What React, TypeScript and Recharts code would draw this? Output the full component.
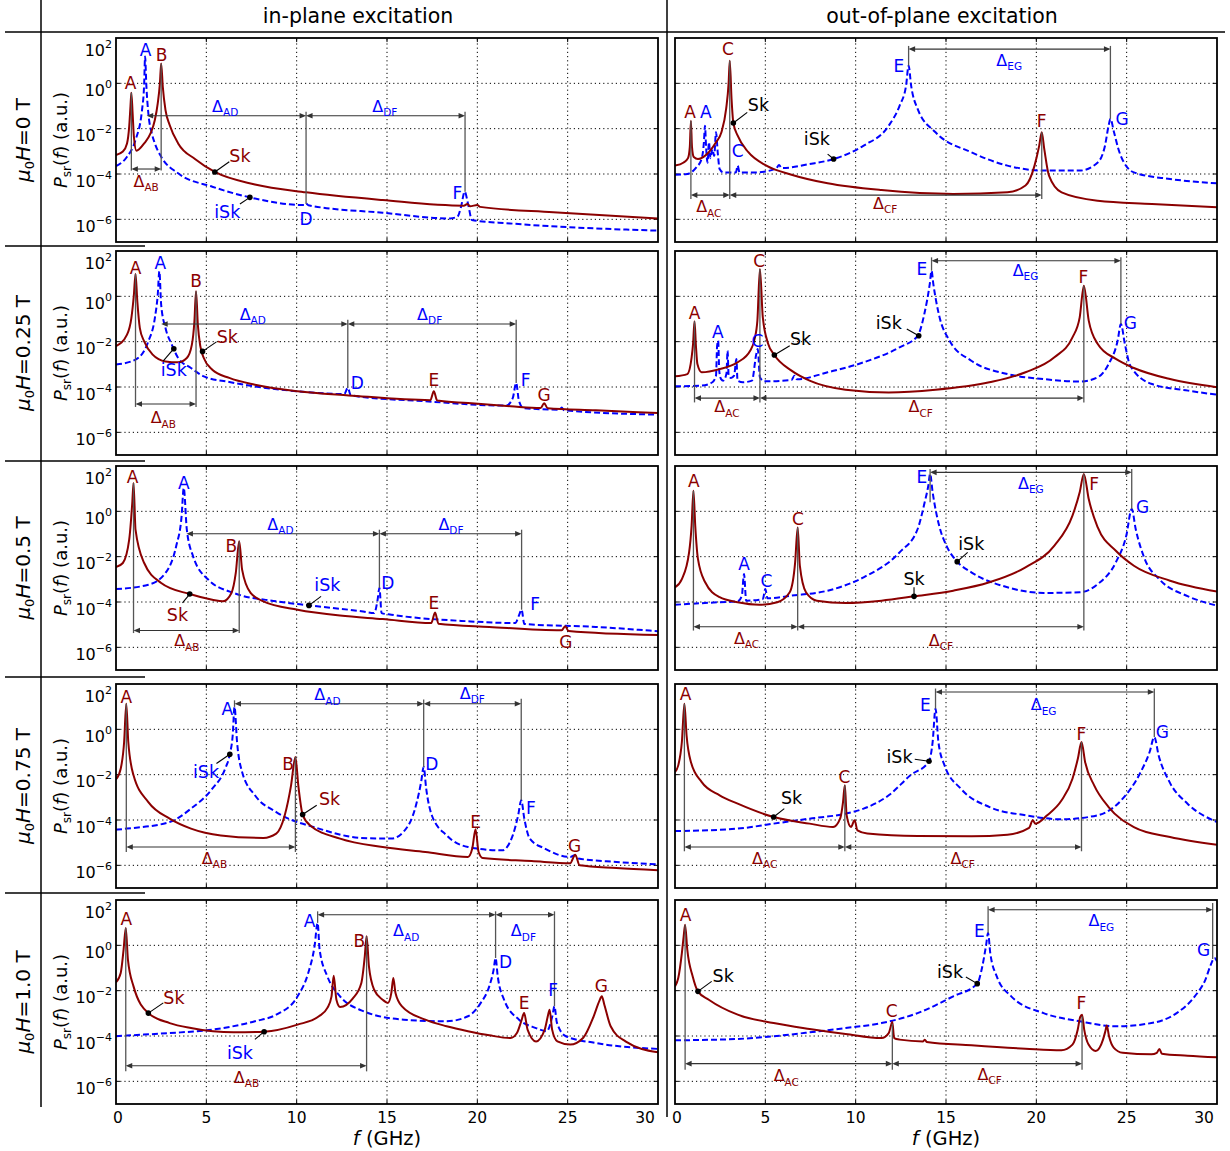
import React from 'react';
import { ComposedChart, Line, XAxis, YAxis, ReferenceLine, ReferenceDot } from 'recharts';

type Pt = [number, number]; // [f in GHz, log10 of P_sr]
type C = 'r' | 'b' | 'k';

// ---------------- axes ----------------
const X_TICKS = [0, 5, 10, 15, 20, 25, 30];
const X_GRID = [5, 10, 15, 20, 25];
const Y_TICKS = [1e-6, 1e-4, 1e-2, 1, 1e2];
const Y_GRID = [1e-6, 1e-4, 1e-2, 1];
const FIELD_LABELS = ['0', '0.25', '0.5', '0.75', '1.0'];
const COLUMN_TITLES = ['in-plane excitation', 'out-of-plane excitation'];

// ---------------- series (log10 values) ----------------
const IN_0T_RED: Pt[] = [[0,-3.16],[0.38,-3.01],[0.61,-2.65],[0.73,-1.91],[0.8,-1.03],[0.85,-0.41],[0.92,-1.32],[0.99,-2.35],[1.13,-2.97],[1.56,-2.65],[1.91,-2.21],[2.15,-1.62],[2.31,-0.88],[2.43,0.0],[2.5,0.88],[2.59,-0.15],[2.74,-1.18],[2.97,-1.84],[3.44,-2.65],[4.39,-3.35],[5.47,-3.91],[7.69,-4.46],[10.52,-4.81],[14.76,-5.15],[19.25,-5.4],[19.45,-5.32],[19.6,-5.42],[20.0,-5.37],[20.15,-5.45],[24.2,-5.69],[30,-5.96]];
const IN_0T_BLUE: Pt[] = [[0,-3.65],[0.61,-3.24],[1.08,-2.5],[1.44,-1.18],[1.56,0.0],[1.61,1.18],[1.68,-0.1],[1.79,-1.32],[1.98,-2.2],[2.15,-2.65],[2.5,-3.24],[3.44,-3.97],[5.33,-4.56],[7.41,-5.03],[10.4,-5.37],[10.52,-5.3],[10.65,-5.38],[14.76,-5.71],[18.5,-5.96],[18.9,-5.88],[19.1,-5.44],[19.3,-4.78],[19.5,-5.37],[19.7,-6.03],[21.8,-6.18],[30,-6.5]];
const OUT_0T_RED: Pt[] = [[0,-3.63],[0.48,-3.49],[0.72,-3.3],[0.82,-2.8],[0.88,-1.65],[0.94,-2.8],[1.04,-3.25],[1.27,-3.34],[1.87,-3.04],[2.27,-2.6],[2.57,-2.16],[2.83,-1.13],[2.97,0.04],[3.03,1.0],[3.13,-0.69],[3.23,-1.75],[3.47,-2.31],[4.06,-3.04],[5.06,-3.63],[6.45,-4.03],[8.45,-4.41],[11.43,-4.71],[15.4,-4.88],[18.4,-4.81],[19.4,-4.51],[19.9,-3.63],[20.16,-2.75],[20.3,-2.16],[20.44,-2.9],[20.7,-4.07],[21.4,-4.81],[23.4,-5.18],[26.4,-5.32],[30,-5.47]];
const OUT_0T_BLUE: Pt[] = [[0,-4.03],[0.68,-4.0],[1.18,-3.71],[1.47,-3.34],[1.6,-2.6],[1.66,-1.87],[1.72,-2.8],[1.8,-3.5],[1.88,-2.6],[1.96,-3.3],[2.07,-2.9],[2.17,-3.2],[2.27,-2.16],[2.37,-3.1],[2.47,-3.78],[2.67,-3.93],[3.37,-3.93],[3.47,-3.63],[3.57,-3.93],[4.46,-3.93],[5.6,-3.76],[5.76,-3.6],[5.9,-3.74],[7.45,-3.56],[8.78,-3.34],[10.44,-2.75],[11.83,-1.87],[12.43,-0.99],[12.79,-0.1],[12.93,0.78],[13.07,-0.1],[13.43,-1.13],[14.42,-2.16],[16.4,-3.04],[18.4,-3.63],[20.4,-3.85],[22.4,-3.85],[23.4,-3.49],[23.8,-2.75],[24.0,-1.87],[24.1,-1.57],[24.3,-2.16],[24.6,-3.04],[25.4,-3.93],[27.4,-4.22],[30,-4.41]];

const IN_025T_RED: Pt[] = [[0,-2.2],[0.61,-1.69],[0.85,-0.96],[0.99,0.07],[1.08,0.99],[1.18,-0.22],[1.32,-1.4],[1.56,-1.99],[2.03,-2.57],[2.74,-2.87],[3.44,-2.91],[3.92,-2.72],[4.2,-2.13],[4.34,-1.1],[4.43,0.22],[4.53,-1.25],[4.67,-2.21],[4.86,-2.72],[5.33,-3.24],[6.27,-3.6],[7.69,-3.9],[10.05,-4.19],[12.88,-4.37],[17.4,-4.58],[17.59,-4.19],[17.78,-4.6],[19.48,-4.71],[21.84,-4.85],[23.5,-4.93],[23.7,-4.72],[23.9,-4.94],[26.56,-5.03],[30,-5.15]];
const IN_025T_BLUE: Pt[] = [[0,-3.01],[1.08,-2.79],[1.79,-1.99],[2.15,-0.96],[2.31,0.07],[2.4,1.1],[2.5,-0.37],[2.74,-1.4],[3.09,-2.13],[3.44,-2.72],[4.15,-3.16],[4.86,-3.53],[6.27,-3.78],[10.05,-4.19],[12.64,-4.31],[12.83,-4.04],[13.0,-4.37],[17.1,-4.63],[21.6,-4.82],[21.96,-4.49],[22.15,-3.82],[22.3,-4.6],[22.55,-4.93],[24.55,-5.0],[24.67,-4.9],[24.8,-5.03],[30,-5.22]];
const OUT_025T_RED: Pt[] = [[0,-3.53],[0.68,-3.43],[0.92,-2.69],[1.0,-2.1],[1.08,-1.1],[1.16,-2.2],[1.24,-2.99],[1.47,-3.35],[2.47,-3.21],[3.47,-2.91],[4.16,-2.4],[4.4,-1.9],[4.56,-1.07],[4.7,1.21],[4.86,-0.93],[5.16,-2.1],[5.5,-2.59],[6.45,-3.28],[7.45,-3.72],[9.44,-4.12],[11.83,-4.24],[14.42,-4.12],[17.4,-3.79],[19.4,-3.35],[21.0,-2.69],[22.0,-1.81],[22.4,-0.93],[22.63,0.47],[22.9,-1.07],[23.4,-2.1],[24.4,-2.76],[25.4,-3.16],[27.4,-3.65],[30,-4.01]];
const OUT_025T_BLUE: Pt[] = [[0,-3.97],[1.47,-3.94],[2.07,-3.79],[2.27,-3.5],[2.33,-2.2],[2.39,-1.96],[2.45,-3.3],[2.55,-3.65],[2.67,-3.72],[2.85,-3.4],[2.91,-2.4],[2.97,-3.5],[3.1,-3.6],[3.27,-3.5],[3.4,-2.76],[3.46,-3.72],[3.76,-3.79],[4.26,-3.72],[4.5,-2.54],[4.58,-2.32],[4.7,-3.57],[4.96,-3.75],[6.45,-3.69],[6.61,-3.5],[6.75,-3.66],[8.45,-3.35],[10.44,-2.91],[12.43,-2.25],[13.43,-1.74],[13.8,-0.78],[14.1,0.54],[14.2,1.13],[14.3,0.54],[14.6,-0.78],[15.2,-1.96],[16.4,-2.84],[18.4,-3.43],[20.4,-3.65],[22.4,-3.76],[23.4,-3.57],[24.0,-2.99],[24.5,-1.96],[24.68,-1.22],[24.9,-2.1],[25.2,-3.06],[26.4,-3.87],[28.4,-4.16],[30,-4.34]];

const IN_05T_RED: Pt[] = [[0,-2.46],[0.38,-2.28],[0.73,-1.25],[0.9,0.37],[0.97,1.25],[1.08,-0.81],[1.56,-2.28],[2.5,-3.16],[4.08,-3.65],[5.33,-3.9],[5.92,-3.97],[6.39,-3.6],[6.63,-2.72],[6.82,-1.32],[6.98,-2.57],[7.45,-3.6],[8.16,-3.97],[10.05,-4.34],[12.4,-4.6],[14.76,-4.75],[17.45,-4.93],[17.66,-4.46],[17.85,-4.96],[20.66,-5.1],[24.67,-5.25],[24.86,-5.07],[25.05,-5.28],[30,-5.46]];
const IN_05T_BLUE: Pt[] = [[0,-3.43],[1.79,-3.24],[2.74,-2.72],[3.33,-1.54],[3.63,-0.22],[3.75,1.03],[3.92,-0.81],[4.27,-1.99],[5.1,-3.01],[6.51,-3.6],[8.87,-3.97],[10.68,-4.15],[13.58,-4.41],[14.29,-4.49],[14.48,-3.9],[14.58,-3.38],[14.7,-4.49],[15.24,-4.56],[19.48,-4.85],[22.1,-4.93],[22.3,-4.6],[22.45,-4.34],[22.6,-4.97],[26.56,-5.1],[30,-5.29]];
const OUT_05T_RED: Pt[] = [[0,-3.35],[0.38,-2.99],[0.78,-1.81],[0.92,-0.63],[1.02,0.91],[1.12,-0.63],[1.27,-2.1],[1.67,-3.13],[2.47,-3.79],[3.47,-4.01],[4.66,-4.12],[5.66,-4.01],[6.35,-3.57],[6.65,-2.25],[6.79,-0.71],[6.91,-2.4],[7.25,-3.57],[7.85,-3.94],[9.44,-4.04],[11.43,-3.94],[13.23,-3.75],[15.4,-3.5],[17.4,-3.13],[19.4,-2.47],[21.0,-1.51],[22.0,-0.19],[22.4,0.84],[22.63,1.65],[22.9,0.54],[23.4,-0.71],[24.4,-1.74],[25.4,-2.4],[27.4,-3.06],[30,-3.54]];
const OUT_05T_BLUE: Pt[] = [[0,-4.12],[2.47,-4.01],[3.47,-3.97],[3.7,-3.72],[3.82,-2.76],[3.94,-3.94],[4.86,-3.87],[5.0,-3.43],[5.12,-3.84],[6.45,-3.72],[8.45,-3.5],[10.44,-2.91],[12.43,-1.81],[13.43,-0.78],[13.82,0.4],[14.02,1.13],[14.12,1.65],[14.26,0.84],[14.62,-0.63],[15.02,-1.51],[15.62,-2.22],[16.4,-2.69],[18.4,-3.35],[20.4,-3.6],[22.4,-3.57],[23.4,-3.21],[24.4,-2.25],[24.98,-1.07],[25.28,0.1],[25.5,-0.78],[26.0,-2.1],[26.8,-2.99],[28.4,-3.75],[30,-4.16]];

const IN_075T_RED: Pt[] = [[0,-2.21],[0.26,-1.74],[0.45,-0.56],[0.57,1.13],[0.68,-0.56],[0.97,-2.03],[1.79,-3.21],[2.97,-3.94],[4.15,-4.38],[5.8,-4.68],[8.16,-4.79],[8.87,-4.6],[9.34,-3.79],[9.69,-2.47],[9.93,-1.22],[10.09,-2.47],[10.33,-3.76],[10.75,-4.24],[12.4,-4.82],[14.76,-5.19],[17.12,-5.41],[19.48,-5.63],[19.72,-5.26],[19.9,-4.41],[20.07,-5.41],[20.3,-5.68],[23.0,-5.81],[25.14,-5.91],[25.42,-5.53],[25.66,-6.0],[27.7,-6.12],[30,-6.22]];
const IN_075T_BLUE: Pt[] = [[0,-4.43],[0.61,-4.38],[2.97,-4.09],[4.15,-3.5],[5.33,-2.62],[6.04,-1.74],[6.3,-1.1],[6.46,-0.26],[6.56,0.99],[6.7,-0.56],[6.98,-1.88],[7.69,-2.91],[8.87,-3.65],[11.23,-4.38],[13.58,-4.79],[15.24,-4.82],[16.18,-4.24],[16.65,-3.21],[16.89,-2.32],[17.03,-1.66],[17.17,-2.62],[17.48,-3.79],[18.3,-4.68],[19.48,-5.19],[21.37,-5.34],[21.96,-4.68],[22.26,-3.79],[22.43,-3.13],[22.6,-3.94],[22.9,-4.82],[23.73,-5.26],[25.14,-5.63],[25.38,-5.56],[25.6,-5.7],[27.7,-5.85],[30,-5.96]];
const OUT_075T_RED: Pt[] = [[0,-1.88],[0.18,-1.59],[0.38,-0.56],[0.52,1.13],[0.64,-0.26],[0.88,-1.44],[1.47,-2.32],[2.47,-2.91],[3.47,-3.28],[5.46,-3.87],[7.45,-4.16],[8.75,-4.31],[9.14,-3.94],[9.3,-3.21],[9.4,-2.47],[9.5,-3.79],[9.74,-4.31],[9.94,-4.01],[10.1,-4.46],[10.64,-4.6],[13.43,-4.71],[16.41,-4.72],[18.4,-4.65],[19.6,-4.35],[19.8,-4.01],[19.95,-4.16],[20.6,-3.79],[21.4,-3.13],[22.0,-2.18],[22.3,-1.29],[22.5,-0.56],[22.7,-1.44],[23.2,-2.47],[24.0,-3.43],[25.4,-4.31],[27.4,-4.75],[30,-5.09]];
const OUT_075T_BLUE: Pt[] = [[0,-4.49],[3.47,-4.38],[5.46,-4.16],[7.45,-3.94],[9.44,-3.72],[10.44,-3.5],[11.83,-2.91],[13.03,-2.03],[14.06,-1.41],[14.26,-0.56],[14.42,0.91],[14.58,-0.56],[14.92,-1.59],[15.82,-2.62],[17.41,-3.43],[19.4,-3.79],[21.4,-3.97],[23.39,-3.79],[24.78,-3.06],[25.78,-1.88],[26.27,-1.0],[26.53,-0.34],[26.77,-1.15],[27.37,-2.32],[28.37,-3.28],[30,-4.09]];

const IN_1T_RED: Pt[] = [[0,-1.63],[0.26,-1.22],[0.42,-0.19],[0.54,0.76],[0.66,-0.63],[0.97,-1.81],[1.79,-2.99],[2.97,-3.43],[4.15,-3.65],[6.51,-3.84],[8.2,-3.81],[10.05,-3.5],[11.23,-3.13],[11.7,-2.76],[11.93,-2.25],[12.05,-1.34],[12.2,-2.4],[12.4,-2.72],[13.1,-2.35],[13.58,-1.66],[13.77,-0.49],[13.87,0.4],[14.0,-0.93],[14.29,-1.96],[14.76,-2.4],[15.05,-2.54],[15.24,-2.1],[15.35,-1.44],[15.47,-2.1],[15.83,-2.69],[17.12,-3.28],[18.3,-3.57],[19.48,-3.79],[20.66,-3.97],[21.84,-4.09],[22.19,-3.87],[22.43,-3.35],[22.59,-2.99],[22.78,-3.72],[23.25,-4.24],[23.73,-3.72],[23.9,-3.13],[24.0,-2.84],[24.14,-3.72],[24.43,-4.24],[25.14,-4.38],[25.85,-4.09],[26.44,-3.13],[26.75,-2.46],[26.89,-2.25],[27.03,-2.62],[27.38,-3.57],[28.2,-4.24],[30,-4.72]];
const IN_1T_BLUE: Pt[] = [[0,-4.01],[0.61,-3.98],[2.97,-3.87],[5.33,-3.72],[7.69,-3.35],[8.87,-3.06],[10.05,-2.25],[10.64,-1.22],[10.99,-0.04],[11.16,0.99],[11.27,-0.19],[11.7,-1.37],[12.4,-2.25],[13.58,-2.87],[15.94,-3.28],[18.3,-3.35],[19.48,-3.13],[20.19,-2.54],[20.66,-1.81],[20.9,-1.08],[21.01,-0.56],[21.13,-1.37],[21.48,-2.4],[22.31,-3.28],[23.25,-3.65],[23.84,-3.79],[24.15,-3.13],[24.27,-2.69],[24.4,-3.4],[24.9,-4.01],[26.56,-4.31],[30,-4.57]];
const OUT_1T_RED: Pt[] = [[0,-1.81],[0.18,-1.44],[0.38,-0.34],[0.48,0.4],[0.56,0.91],[0.68,-0.19],[0.98,-1.37],[1.27,-2.03],[1.87,-2.4],[3.47,-3.06],[5.46,-3.43],[7.45,-3.69],[9.44,-3.91],[11.43,-4.09],[11.83,-3.87],[11.97,-3.5],[12.03,-3.38],[12.13,-4.09],[12.43,-4.16],[13.73,-4.24],[13.83,-4.16],[13.93,-4.26],[16.41,-4.41],[19.4,-4.56],[21.39,-4.63],[22.0,-4.38],[22.29,-3.72],[22.43,-3.16],[22.53,-3.06],[22.65,-3.72],[22.89,-4.38],[23.29,-4.66],[23.69,-4.16],[23.82,-3.79],[23.9,-3.54],[24.02,-4.0],[24.28,-4.51],[24.78,-4.74],[26.37,-4.81],[26.67,-4.74],[26.81,-4.57],[26.95,-4.78],[28.37,-4.87],[30,-4.94]];
const OUT_1T_BLUE: Pt[] = [[0,-4.19],[3.47,-4.13],[5.46,-4.01],[7.45,-3.84],[9.44,-3.65],[11.43,-3.43],[13.43,-2.99],[15.4,-2.25],[16.73,-1.69],[17.01,-0.93],[17.21,-0.04],[17.33,0.54],[17.45,-0.34],[17.81,-1.37],[18.61,-2.25],[20.4,-2.99],[22.4,-3.35],[24.4,-3.57],[26.37,-3.43],[27.77,-2.99],[28.77,-2.25],[29.36,-1.51],[29.66,-0.85],[29.86,-0.56],[30,-0.71]];

// ---------------- annotations (data coordinates: f, log10) ----------------
interface Ann {
  letters: [number, number, string, C][];
  vlines: [number, number, number][];
  arrows: [number, number, number][];
  deltas: [number, number, string, C][];
  pointers: [number, number, number, number, number, number, string, C][];
}
const ANN_IN_0T: Ann = {
  letters: [[0.8,0.0,'A','r'],[1.63,1.47,'A','b'],[2.52,1.25,'B','r'],[10.52,-5.96,'D','b'],[18.9,-4.85,'F','b']],
  vlines: [[0.85,-0.41,-3.85],[2.5,0.88,-3.85],[10.52,-1.25,-5.32],[19.32,-1.25,-4.78]],
  arrows: [[0.85,2.5,-3.78],[1.7,10.52,-1.43],[10.52,19.32,-1.43]],
  deltas: [[1.67,-4.34,'AB','r'],[6.04,-1.03,'AD','b'],[14.88,-1.03,'DF','b']],
  pointers: [[5.47,-3.91,6.27,-3.46,6.86,-3.19,'Sk','r'],[7.41,-5.03,6.86,-5.32,6.16,-5.66,'iSk','b']],
};
const ANN_OUT_0T: Ann = {
  letters: [[0.84,-1.28,'A','r'],[1.71,-1.28,'A','b'],[2.93,1.51,'C','r'],[3.47,-2.97,'C','b'],[12.39,0.78,'E','b'],[20.3,-1.65,'F','r'],[24.74,-1.57,'G','b']],
  vlines: [[0.88,-1.65,-5.1],[3.03,1.0,-5.1],[20.3,-2.16,-5.1],[12.93,1.65,0.78],[24.1,1.65,-1.57]],
  arrows: [[0.88,3.03,-4.93],[3.03,20.3,-4.93],[12.93,24.1,1.51]],
  deltas: [[1.87,-5.47,'AC','r'],[11.63,-5.32,'CF','r'],[18.5,1.0,'EG','b']],
  pointers: [[3.23,-1.75,4.0,-1.28,4.62,-0.96,'Sk','k'],[8.78,-3.34,8.45,-3.12,7.85,-2.46,'iSk','k']],
};
const ANN_IN_025T: Ann = {
  letters: [[1.08,1.25,'A','r'],[2.45,1.47,'A','b'],[4.43,0.66,'B','r'],[13.35,-3.82,'D','b'],[17.6,-3.68,'E','r'],[22.67,-3.68,'F','b'],[23.7,-4.34,'G','r']],
  vlines: [[1.08,0.99,-4.88],[4.43,0.22,-4.88],[12.83,-1.03,-4.04],[22.15,-1.03,-3.82]],
  arrows: [[1.08,4.43,-4.75],[2.5,12.83,-1.22],[12.83,22.15,-1.22]],
  deltas: [[2.62,-5.37,'AB','r'],[7.57,-0.81,'AD','b'],[17.36,-0.81,'DF','b']],
  pointers: [[4.79,-2.43,5.56,-2.01,6.16,-1.76,'Sk','r'],[3.2,-2.31,2.62,-2.85,3.2,-3.24,'iSk','b']],
};
const ANN_OUT_025T: Ann = {
  letters: [[1.08,-0.71,'A','r'],[2.37,-1.59,'A','b'],[4.66,1.57,'C','r'],[4.56,-1.96,'C','b'],[13.67,1.21,'E','b'],[22.6,0.84,'F','r'],[25.2,-1.15,'G','b']],
  vlines: [[1.08,-1.1,-4.68],[4.7,1.21,-4.68],[22.63,0.47,-4.68],[14.2,1.72,1.13],[24.68,1.72,-1.22]],
  arrows: [[1.08,4.7,-4.49],[4.7,22.63,-4.49],[14.2,24.68,1.57]],
  deltas: [[2.87,-4.9,'AC','r'],[13.6,-4.9,'CF','r'],[19.4,1.13,'EG','b']],
  pointers: [[5.5,-2.59,6.35,-2.18,6.95,-1.85,'Sk','k'],[13.49,-1.74,12.83,-1.44,11.83,-1.15,'iSk','k']],
};
const ANN_IN_05T: Ann = {
  letters: [[0.92,1.54,'A','r'],[3.75,1.25,'A','b'],[6.39,-1.54,'B','r'],[15.05,-3.16,'D','b'],[17.6,-4.04,'E','r'],[23.2,-4.07,'F','b'],[24.9,-5.78,'G','r']],
  vlines: [[0.97,1.25,-5.37],[6.82,-1.32,-5.37],[14.58,-0.81,-3.38],[22.45,-0.81,-4.34]],
  arrows: [[0.97,6.82,-5.26],[3.9,14.58,-0.99],[14.58,22.45,-0.99]],
  deltas: [[3.92,-5.74,'AB','r'],[9.1,-0.59,'AD','b'],[18.54,-0.59,'DF','b']],
  pointers: [[4.08,-3.65,3.68,-4.04,3.4,-4.56,'Sk','r'],[10.68,-4.15,11.35,-3.75,11.7,-3.24,'iSk','b']],
};
const ANN_OUT_05T: Ann = {
  letters: [[1.04,1.35,'A','r'],[6.81,-0.34,'C','r'],[3.82,-2.32,'A','b'],[5.06,-3.06,'C','b'],[13.67,1.5,'E','b'],[23.2,1.21,'F','r'],[25.88,0.18,'G','b']],
  vlines: [[1.02,0.91,-5.26],[6.79,-0.71,-5.26],[22.63,1.65,-5.26],[14.12,1.87,0.4],[25.28,1.87,0.1]],
  arrows: [[1.02,6.79,-5.09],[6.79,22.63,-5.09],[14.12,25.28,1.72]],
  deltas: [[3.96,-5.63,'AC','r'],[14.72,-5.7,'CF','r'],[19.7,1.21,'EG','b']],
  pointers: [[13.23,-3.75,13.23,-3.35,13.23,-2.99,'Sk','k'],[15.62,-2.22,16.2,-1.81,16.4,-1.44,'iSk','k']],
};
const ANN_IN_075T: Ann = {
  letters: [[0.57,1.43,'A','r'],[6.16,0.91,'A','b'],[9.53,-1.51,'B','r'],[17.48,-1.51,'D','b'],[19.9,-4.09,'E','r'],[22.97,-3.47,'F','b'],[25.38,-5.12,'G','r']],
  vlines: [[0.57,1.13,-5.41],[9.93,-1.22,-5.41],[6.56,1.28,0.99],[17.03,1.32,-1.66],[22.43,1.35,-3.13]],
  arrows: [[0.57,9.93,-5.19],[6.56,17.03,1.13],[17.03,22.43,1.13]],
  deltas: [[5.45,-5.71,'AB','r'],[11.7,1.5,'AD','b'],[19.72,1.57,'DF','b']],
  pointers: [[6.3,-1.1,5.56,-1.51,4.98,-1.88,'iSk','b'],[10.33,-3.76,11.11,-3.35,11.82,-3.06,'Sk','r']],
};
const ANN_OUT_075T: Ann = {
  letters: [[0.58,1.57,'A','r'],[9.38,-2.1,'C','r'],[13.86,1.06,'E','b'],[22.49,-0.19,'F','r'],[26.97,-0.12,'G','b']],
  vlines: [[0.52,1.13,-5.38],[9.4,-2.47,-5.38],[22.5,-0.56,-5.38],[14.42,1.8,0.91],[26.53,1.8,-0.34]],
  arrows: [[0.52,9.4,-5.19],[9.4,22.5,-5.19],[14.42,26.53,1.65]],
  deltas: [[4.96,-5.71,'AC','r'],[15.92,-5.71,'CF','r'],[20.4,1.06,'EG','b']],
  pointers: [[5.46,-3.87,6.05,-3.5,6.45,-3.03,'Sk','k'],[14.06,-1.41,13.27,-1.32,12.43,-1.22,'iSk','k']],
};
const ANN_IN_1T: Ann = {
  letters: [[0.57,1.16,'A','r'],[10.71,1.06,'A','b'],[13.47,0.18,'B','r'],[21.56,-0.71,'D','b'],[22.59,-2.54,'E','r'],[24.2,-1.96,'F','b'],[26.86,-1.81,'G','r']],
  vlines: [[0.54,0.76,-5.56],[13.87,0.4,-5.56],[11.16,1.5,0.99],[21.01,1.5,-0.56],[24.27,1.5,-2.69]],
  arrows: [[0.54,13.87,-5.31],[11.16,21.01,1.35],[21.01,24.27,1.35]],
  deltas: [[7.22,-5.85,'AB','r'],[16.06,0.62,'AD','b'],[22.55,0.62,'DF','b']],
  pointers: [[1.79,-2.99,2.62,-2.54,3.21,-2.32,'Sk','r'],[8.2,-3.81,7.69,-4.15,6.86,-4.75,'iSk','b']],
};
const ANN_OUT_1T: Ann = {
  letters: [[0.58,1.35,'A','r'],[12.0,-2.91,'C','r'],[16.85,0.62,'E','b'],[22.49,-2.54,'F','r'],[29.26,-0.19,'G','b']],
  vlines: [[0.56,0.91,-5.49],[12.03,-3.46,-5.49],[22.53,-3.13,-5.49],[17.33,1.72,0.54],[29.76,1.87,-0.6]],
  arrows: [[0.56,12.03,-5.22],[12.03,22.53,-5.22],[17.33,29.76,1.57]],
  deltas: [[6.16,-5.78,'AC','r'],[17.41,-5.71,'CF','r'],[23.6,1.06,'EG','b']],
  pointers: [[1.27,-2.03,2.03,-1.59,2.67,-1.34,'Sk','k'],[16.73,-1.69,16.1,-1.4,15.22,-1.15,'iSk','k']],
};

interface PanelCfg { row: number; col: number; red: Pt[]; blue: Pt[]; ann: Ann; }
const PANELS: PanelCfg[] = [
  { row: 0, col: 0, red: IN_0T_RED, blue: IN_0T_BLUE, ann: ANN_IN_0T },
  { row: 0, col: 1, red: OUT_0T_RED, blue: OUT_0T_BLUE, ann: ANN_OUT_0T },
  { row: 1, col: 0, red: IN_025T_RED, blue: IN_025T_BLUE, ann: ANN_IN_025T },
  { row: 1, col: 1, red: OUT_025T_RED, blue: OUT_025T_BLUE, ann: ANN_OUT_025T },
  { row: 2, col: 0, red: IN_05T_RED, blue: IN_05T_BLUE, ann: ANN_IN_05T },
  { row: 2, col: 1, red: OUT_05T_RED, blue: OUT_05T_BLUE, ann: ANN_OUT_05T },
  { row: 3, col: 0, red: IN_075T_RED, blue: IN_075T_BLUE, ann: ANN_IN_075T },
  { row: 3, col: 1, red: OUT_075T_RED, blue: OUT_075T_BLUE, ann: ANN_OUT_075T },
  { row: 4, col: 0, red: IN_1T_RED, blue: IN_1T_BLUE, ann: ANN_IN_1T },
  { row: 4, col: 1, red: OUT_1T_RED, blue: OUT_1T_BLUE, ann: ANN_OUT_1T },
];

// ---------------- styling / layout ----------------
const FONT = '"DejaVu Sans", Verdana, sans-serif';
const RED = '#8b0000';
const BLUE = '#0000ff';
const COLORS: Record<C, string> = { r: RED, b: BLUE, k: '#000' };
const PW = 542, PH = 204;
const COL_X = [116, 675];
const ROW_Y = [38, 251, 466, 684, 900];
const SEP_Y = [246, 461, 677, 893];

const P10 = (e: number) => Math.pow(10, e);
const toRows = (pts: Pt[]) => pts.map(([f, e]) => ({ f, v: P10(e) }));

const XTick = (p: any) => {
  const v = p.payload.value;
  const dx = v === 30 ? -13 : v === 0 ? 2 : 0;
  return (
    <text x={p.x + dx} y={p.y + 18.5} textAnchor="middle" fontSize={15.5} fontFamily={FONT} fill="#000">{v}</text>
  );
};
const YTick = (p: any) => {
  const e = Math.round(Math.log10(p.payload.value));
  const dy = e === 2 ? 5.5 : 0;
  return (
    <text x={p.x - 4} y={p.y + 12.5 + dy} textAnchor="end" fontSize={16} fontFamily={FONT} fill="#000">
      10<tspan dy={-8} fontSize={11}>{e < 0 ? '\u2212' + -e : String(e)}</tspan>
    </text>
  );
};

const arrowShape = (p: any) => {
  const x1 = Math.min(p.x1, p.x2), x2 = Math.max(p.x1, p.x2), y = p.y1;
  const h = 6.5, w = 2.8, col = '#333';
  return (
    <g>
      <line x1={x1 + 2} y1={y} x2={x2 - 2} y2={y} stroke={col} strokeWidth={1.1} />
      <path d={`M${x1},${y} L${x1 + h},${y - w} L${x1 + h},${y + w} Z`} fill={col} />
      <path d={`M${x2},${y} L${x2 - h},${y - w} L${x2 - h},${y + w} Z`} fill={col} />
    </g>
  );
};

const letterShape = (txt: string, color: string, size: number) => (p: any) => (
  <text x={p.cx} y={p.cy + size * 0.36} textAnchor="middle" fontSize={size} fontFamily={FONT} fill={color}>{txt}</text>
);
const deltaShape = (sub: string, color: string) => (p: any) => (
  <text x={p.cx} y={p.cy + 5} textAnchor="middle" fontSize={16} fontFamily={FONT} fill={color}>
    {'\u0394'}<tspan dy={4.5} fontSize={10.5}>{sub}</tspan>
  </text>
);

function Panel({ p }: { p: PanelCfg }) {
  const isLeft = p.col === 0;
  const isBottom = p.row === 4;
  const YW = isLeft ? 60 : 0;
  const ML = isLeft ? 0 : 6, MR = 6, MT = 14, MB = 6;
  const XH = isBottom ? 30 : 0;
  const width = YW + ML + PW + MR;
  const height = MT + PH + XH + MB;
  const left = COL_X[p.col] - ML - YW;
  const top = ROW_Y[p.row] - MT;
  const a = p.ann;
  return (
    <div style={{ position: 'absolute', left, top }}>
      <ComposedChart width={width} height={height} margin={{ top: MT, right: MR, bottom: MB, left: ML }}>
        <XAxis type="number" dataKey="f" domain={[0, 30]} ticks={X_TICKS} interval={0} allowDataOverflow
          hide={!isBottom} height={XH} axisLine={false} tickLine={false} tickSize={0} tickMargin={0} tick={<XTick />} />
        <YAxis type="number" scale="log" domain={[1e-7, 1e2]} ticks={Y_TICKS} interval={0} allowDataOverflow
          hide={!isLeft} width={YW} axisLine={false} tickLine={false} tickSize={0} tickMargin={0} tick={<YTick />} />
        {X_GRID.map((x) => (
          <ReferenceLine key={'gx' + x} x={x} stroke="#000" strokeWidth={1} strokeDasharray="1.2 3" />
        ))}
        {Y_GRID.map((y) => (
          <ReferenceLine key={'gy' + y} y={y} stroke="#000" strokeWidth={1} strokeDasharray="1.2 3" />
        ))}
        {X_GRID.map((x) => (
          <ReferenceLine key={'tb' + x} segment={[{ x, y: 1e-7 }, { x, y: P10(-6.82) }]} stroke="#000" strokeWidth={1} ifOverflow="visible" />
        ))}
        {X_GRID.map((x) => (
          <ReferenceLine key={'tt' + x} segment={[{ x, y: 1e2 }, { x, y: P10(1.82) }]} stroke="#000" strokeWidth={1} ifOverflow="visible" />
        ))}
        {Y_GRID.map((y) => (
          <ReferenceLine key={'tl' + y} segment={[{ x: 0, y }, { x: 0.22, y }]} stroke="#000" strokeWidth={1} ifOverflow="visible" />
        ))}
        {Y_GRID.map((y) => (
          <ReferenceLine key={'tr' + y} segment={[{ x: 29.78, y }, { x: 30, y }]} stroke="#000" strokeWidth={1} ifOverflow="visible" />
        ))}
        <Line data={toRows(p.blue)} dataKey="v" type="monotone" stroke={BLUE} strokeWidth={2} strokeDasharray="6 3"
          dot={false} activeDot={false} isAnimationActive={false} />
        <Line data={toRows(p.red)} dataKey="v" type="monotone" stroke={RED} strokeWidth={2}
          dot={false} activeDot={false} isAnimationActive={false} />
        {a.vlines.map(([f, e1, e2], i) => (
          <ReferenceLine key={'v' + i} segment={[{ x: f, y: P10(e1) }, { x: f, y: P10(e2) }]} stroke="#555" strokeWidth={1.3} ifOverflow="visible" />
        ))}
        {a.arrows.map(([f1, f2, e], i) => (
          <ReferenceLine key={'a' + i} segment={[{ x: f1, y: P10(e) }, { x: f2, y: P10(e) }]} stroke="#333" ifOverflow="visible" shape={arrowShape} />
        ))}
        {a.pointers.map(([df, de, lf, le], i) => (
          <ReferenceLine key={'pl' + i} segment={[{ x: df, y: P10(de) }, { x: lf, y: P10(le) }]} stroke="#000" strokeWidth={1.1} ifOverflow="visible" />
        ))}
        {a.pointers.map(([df, de], i) => (
          <ReferenceDot key={'pd' + i} x={df} y={P10(de)} r={2.8} fill="#000" stroke="none" ifOverflow="visible" />
        ))}
        {a.pointers.map(([, , , , tf, te, txt, c], i) => (
          <ReferenceDot key={'pt' + i} x={tf} y={P10(te)} r={0} ifOverflow="visible" shape={letterShape(txt, COLORS[c], 17.5)} />
        ))}
        {a.letters.map(([f, e, txt, c], i) => (
          <ReferenceDot key={'l' + i} x={f} y={P10(e)} r={0} ifOverflow="visible" shape={letterShape(txt, COLORS[c], 17)} />
        ))}
        {a.deltas.map(([f, e, sub, c], i) => (
          <ReferenceDot key={'d' + i} x={f} y={P10(e)} r={0} ifOverflow="visible" shape={deltaShape(sub, COLORS[c])} />
        ))}
      </ComposedChart>
    </div>
  );
}

export default function App() {
  return (
    <div style={{ position: 'absolute', left: 0, top: 0, width: 1230, height: 1151, background: '#fff', fontFamily: FONT }}>
      {PANELS.map((p, i) => (
        <Panel key={i} p={p} />
      ))}
      <svg width={1230} height={1151} style={{ position: 'absolute', left: 0, top: 0, pointerEvents: 'none' }}>
        {PANELS.map((p, i) => (
          <rect key={'fr' + i} x={COL_X[p.col]} y={ROW_Y[p.row]} width={PW} height={PH} fill="none" stroke="#000" strokeWidth={1.8} />
        ))}
        <line x1={5} y1={32} x2={1225} y2={32} stroke="#000" strokeWidth={1.5} />
        <line x1={41} y1={0} x2={41} y2={1107} stroke="#000" strokeWidth={1.5} />
        <line x1={667} y1={0} x2={667} y2={1117} stroke="#000" strokeWidth={1.5} />
        {SEP_Y.map((y) => (
          <line key={'s' + y} x1={5} y1={y} x2={145} y2={y} stroke="#000" strokeWidth={1.5} />
        ))}
        <text x={358} y={22.5} textAnchor="middle" fontSize={20.5} fontFamily={FONT} fill="#000">{COLUMN_TITLES[0]}</text>
        <text x={942} y={22.5} textAnchor="middle" fontSize={20.5} fontFamily={FONT} fill="#000">{COLUMN_TITLES[1]}</text>
        {FIELD_LABELS.map((lab, r) => {
          const cy = ROW_Y[r] + PH / 2;
          return (
            <g key={'rl' + r}>
              <text transform={`translate(30,${cy}) rotate(-90)`} textAnchor="middle" fontSize={20} fontFamily={FONT} fill="#000">
                <tspan fontStyle="italic">μ</tspan><tspan dy={4} fontSize={13}>0</tspan><tspan dy={-4} fontStyle="italic">H</tspan>={lab} T
              </text>
              <text transform={`translate(67,${cy}) rotate(-90)`} textAnchor="middle" fontSize={18} fontFamily={FONT} fill="#000">
                <tspan fontStyle="italic">P</tspan><tspan dy={4} fontSize={12}>sr</tspan><tspan dy={-4}>(</tspan><tspan fontStyle="italic">f</tspan>) (a.u.)
              </text>
            </g>
          );
        })}
        {[0, 1].map((c) => (
          <text key={'xl' + c} x={COL_X[c] + PW / 2} y={1144.5} textAnchor="middle" fontSize={19.5} fontFamily={FONT} fill="#000">
            <tspan fontStyle="italic">f</tspan> (GHz)
          </text>
        ))}
      </svg>
    </div>
  );
}
